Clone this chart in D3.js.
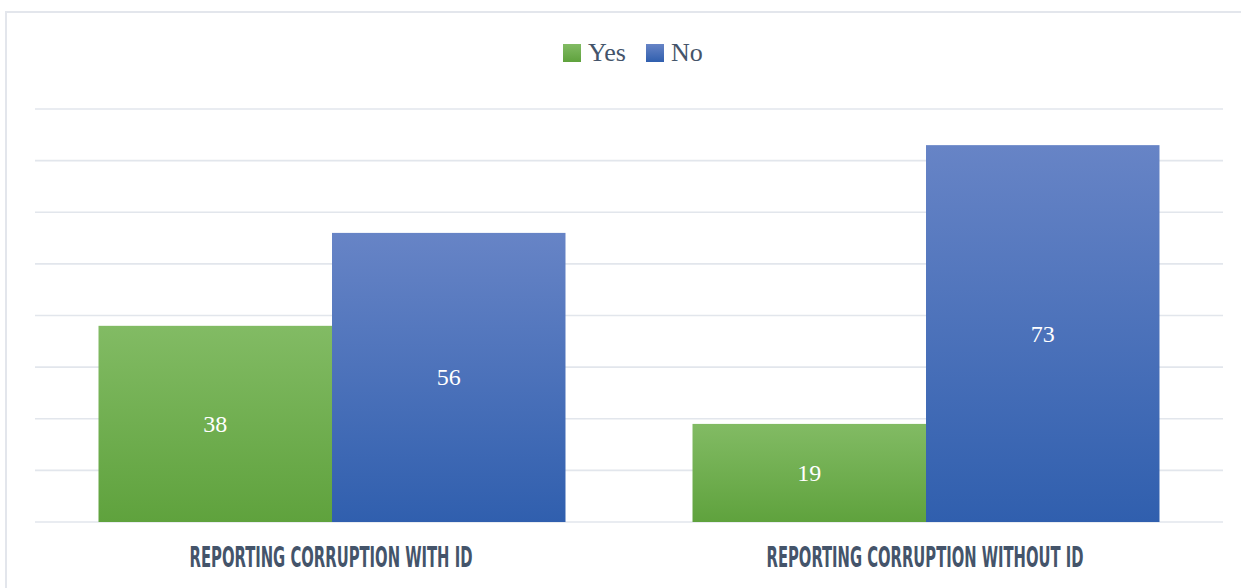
<!DOCTYPE html>
<html>
<head>
<meta charset="utf-8">
<script src="https://cdn.jsdelivr.net/npm/d3@7"></script>
<style>
  html, body { margin: 0; padding: 0; background: #fff; }
  svg { display: block; }
</style>
</head>
<body>
<svg id="chart" width="1241" height="588"></svg>
<script>
// Survey responses on reporting corruption, by whether ID is required
const categories = ["REPORTING CORRUPTION WITH ID", "REPORTING CORRUPTION WITHOUT ID"];
const series = ["Yes", "No"];
const yesValues = [38, 19];
const noValues = [56, 73];
const gridTicks = [0, 10, 20, 30, 40, 50, 60, 70, 80];

const rows = categories.map((c, i) => ({ category: c, Yes: yesValues[i], No: noValues[i] }));

const svg = d3.select("#chart");
const W = 1241, H = 588;
const plot = { left: 35, right: 1223, top: 109, bottom: 522 };

// Outer frame (open to the right and bottom edges)
svg.append("path")
  .attr("d", `M${W},12 H6 V${H}`)
  .attr("fill", "none").attr("stroke", "#e3e6ec").attr("stroke-width", 2);

const defs = svg.append("defs");
const grads = {
  Yes: ["#82bb64", "#5fa23d"],
  No: ["#6784c6", "#305fae"]
};
Object.entries(grads).forEach(([k, [c0, c1]]) => {
  const g = defs.append("linearGradient").attr("id", "grad-" + k)
    .attr("x1", 0).attr("y1", 0).attr("x2", 0).attr("y2", 1);
  g.append("stop").attr("offset", "0%").attr("stop-color", c0);
  g.append("stop").attr("offset", "100%").attr("stop-color", c1);
});

const y = d3.scaleLinear().domain([0, 80]).range([plot.bottom, plot.top]);
const x0 = d3.scaleBand().domain(categories).range([plot.left, plot.right]).padding(0);
const x1 = d3.scaleBand().domain(series).range([0, x0.bandwidth()])
  .paddingInner(0).paddingOuter(0.272);

// Horizontal gridlines
svg.append("g").selectAll("line").data(gridTicks).join("line")
  .attr("x1", plot.left).attr("x2", plot.right)
  .attr("y1", d => y(d)).attr("y2", d => y(d))
  .attr("stroke", "#e2e6ec").attr("stroke-width", 1.6);

// Bars
const groups = svg.append("g").selectAll("g").data(rows).join("g")
  .attr("transform", d => `translate(${x0(d.category)},0)`);

groups.selectAll("rect").data(d => series.map(s => ({ key: s, value: d[s] }))).join("rect")
  .attr("x", d => x1(d.key))
  .attr("width", x1.bandwidth())
  .attr("y", d => y(d.value))
  .attr("height", d => y(0) - y(d.value))
  .attr("fill", d => `url(#grad-${d.key})`);

// Value labels centred in each bar
groups.selectAll("text").data(d => series.map(s => ({ key: s, value: d[s] }))).join("text")
  .attr("x", d => x1(d.key) + x1.bandwidth() / 2)
  .attr("y", d => (y(d.value) + y(0)) / 2 + 8)
  .attr("text-anchor", "middle")
  .attr("font-family", "'Liberation Serif', 'DejaVu Serif', serif")
  .attr("font-size", 24)
  .attr("fill", "#ffffff")
  .text(d => d.value);

// Category axis labels, condensed to their set widths
const labelWidths = [283, 317];
svg.append("g").selectAll("g").data(categories).join("g")
  .attr("transform", d => `translate(${x0(d) + x0.bandwidth() / 2 - 1},567)`)
  .append("text")
  .attr("text-anchor", "middle")
  .attr("font-family", "'Liberation Sans Narrow', 'DejaVu Sans Condensed', sans-serif")
  .attr("font-weight", "bold")
  .attr("font-size", 28)
  .attr("fill", "#44546a")
  .text(d => d)
  .each(function (d, i) {
    const w = this.getComputedTextLength();
    d3.select(this).attr("transform", `scale(${labelWidths[i] / w},1)`);
  });

// Legend
const legendItems = [
  { key: "Yes", x: 563 },
  { key: "No", x: 646 }
];
const legend = svg.append("g");
legend.selectAll("rect").data(legendItems).join("rect")
  .attr("x", d => d.x).attr("y", 44)
  .attr("width", 18).attr("height", 18)
  .attr("fill", d => `url(#grad-${d.key})`);
legend.selectAll("text").data(legendItems).join("text")
  .attr("x", d => d.x + 25).attr("y", 61)
  .attr("font-family", "'Liberation Serif', 'DejaVu Serif', serif")
  .attr("font-size", 26)
  .attr("fill", "#44546a")
  .text(d => d.key);
</script>
</body>
</html>
